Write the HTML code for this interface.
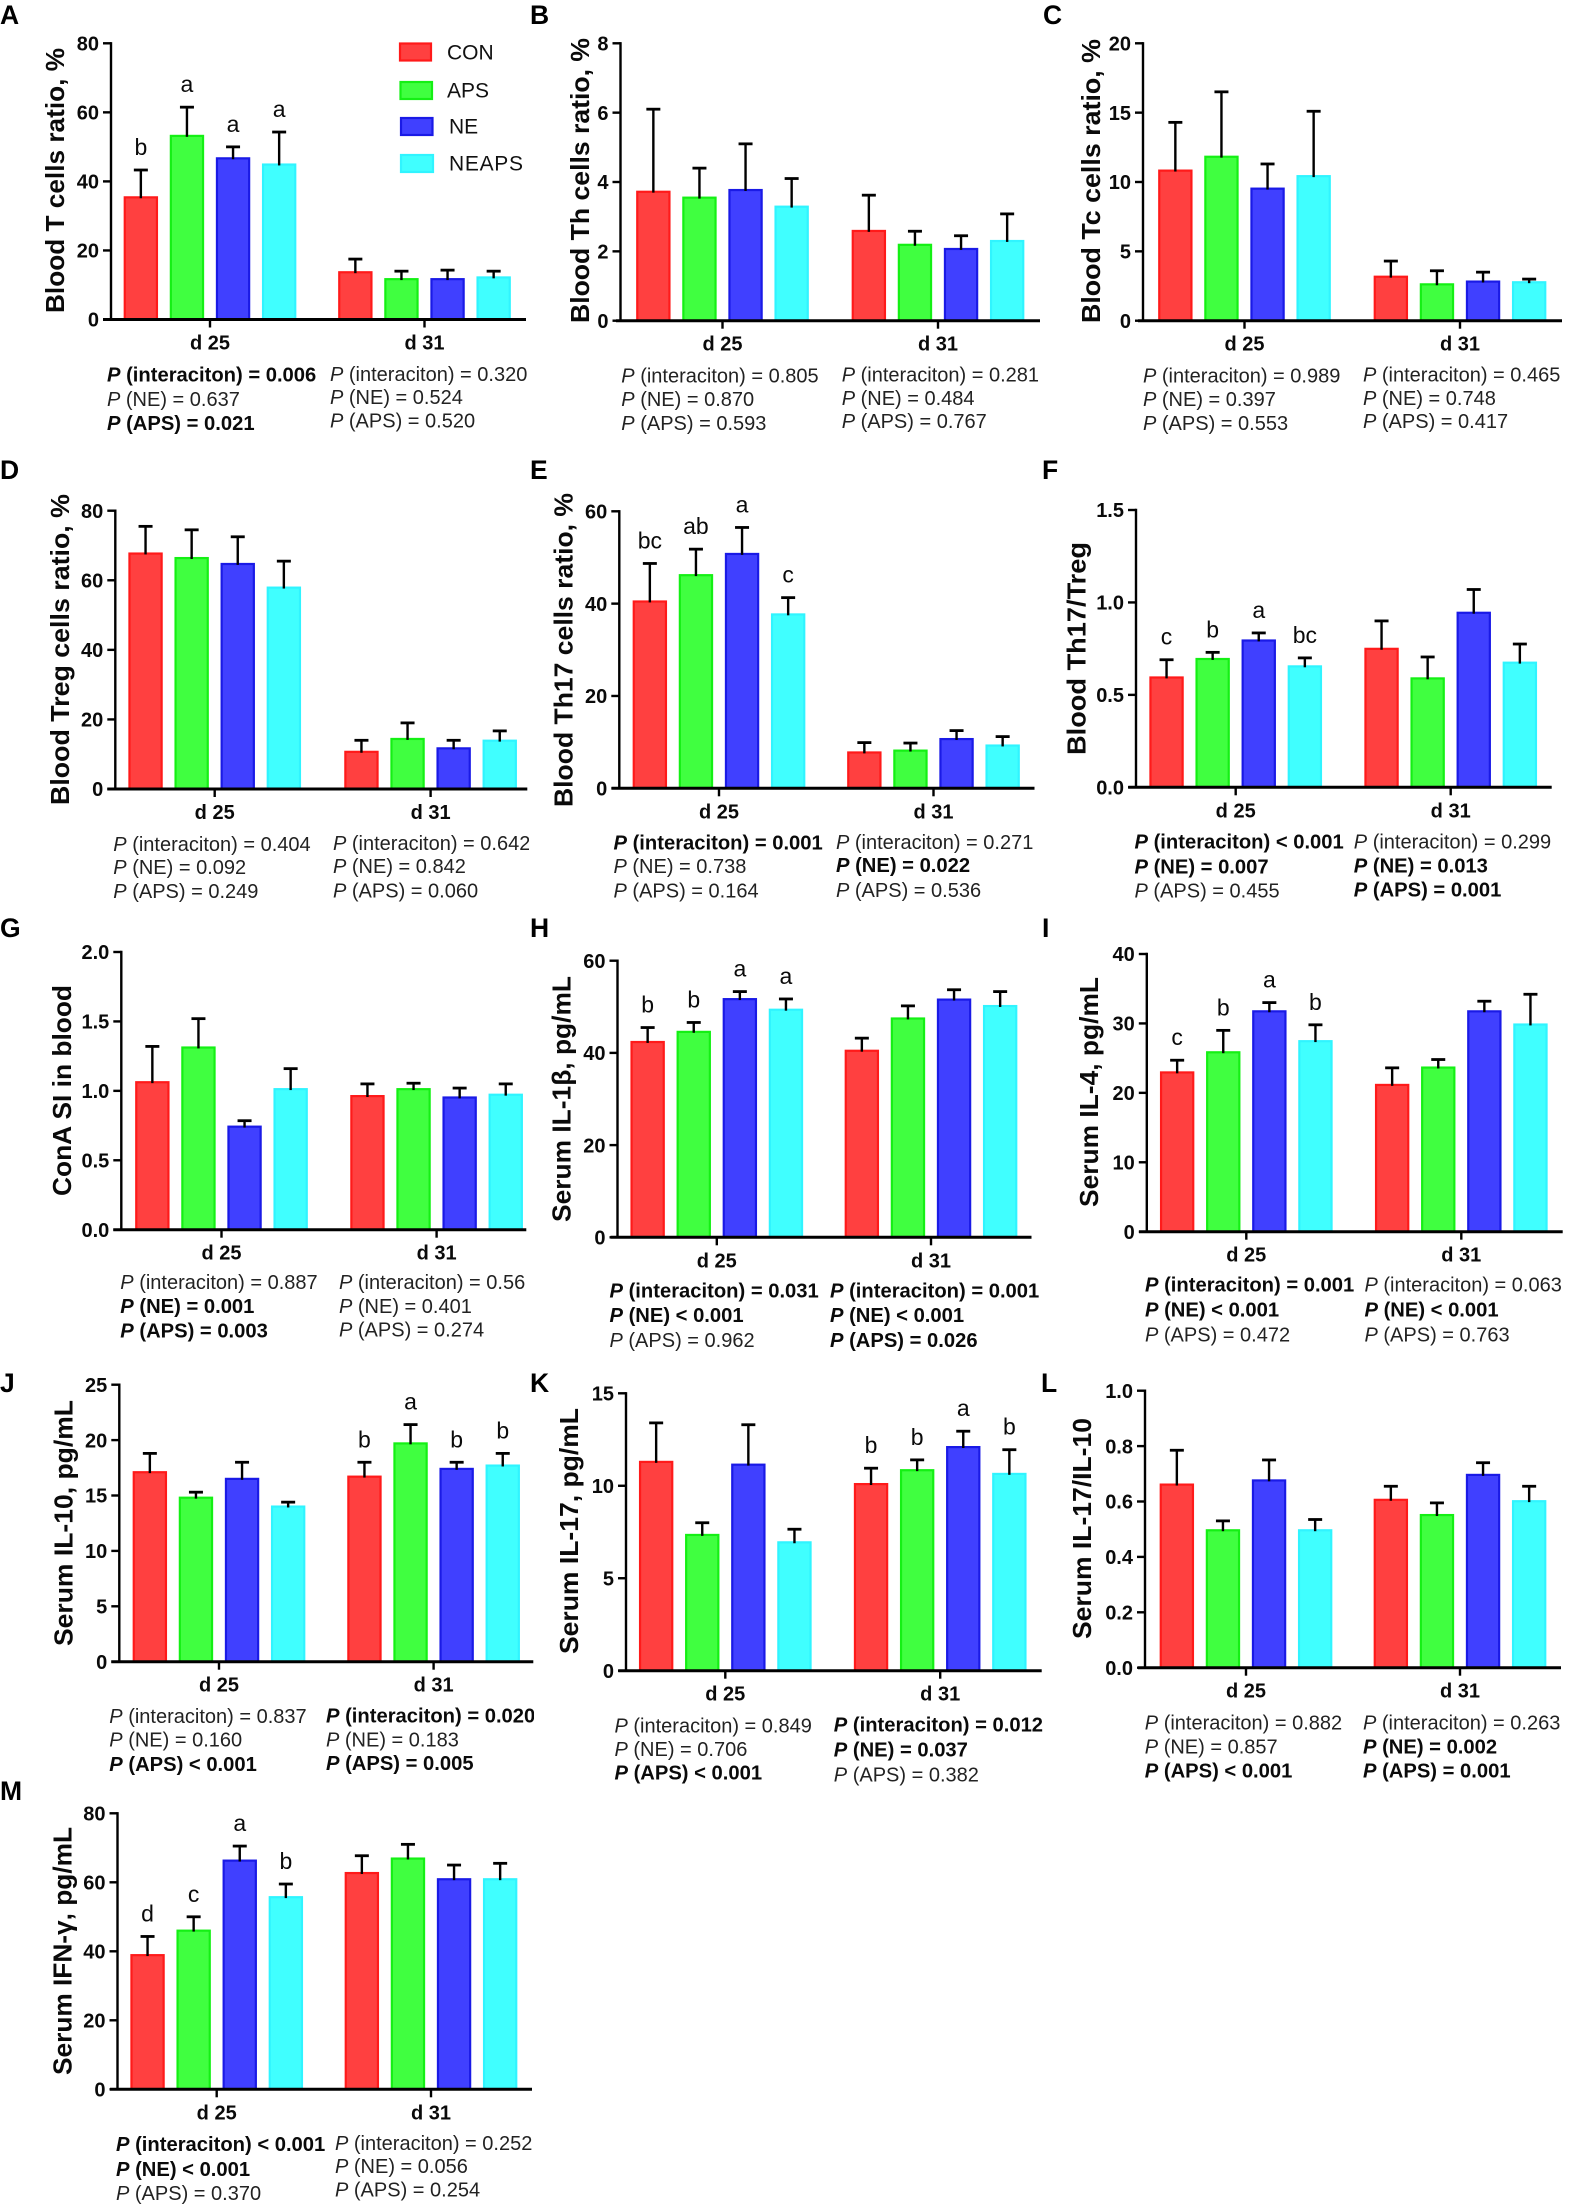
<!DOCTYPE html>
<html lang="en">
<head>
<meta charset="utf-8">
<title>Blood and serum immune parameters</title>
<style>
html,body{margin:0;padding:0;background:#fff;}
svg{display:block;font-family:"Liberation Sans",Arial,sans-serif;}
.pl{font-size:26.5px;font-weight:700;fill:#000;}
.yt{font-size:26px;font-weight:700;fill:#0a0a0a;}
.p{font-size:20px;fill:#222;}
.b{font-size:20.2px;font-weight:700;fill:#0a0a0a;}
.i{font-style:italic;}
.lg{font-size:21px;fill:#111;}
</style>
</head>
<body>
<svg id="figure" xmlns="http://www.w3.org/2000/svg" width="1571" height="2204" viewBox="0 0 1571 2204">
<defs>
<clipPath id="clip-d"><rect x="0" y="820" width="529" height="100"/></clipPath>
<clipPath id="clip-j"><rect x="0" y="1700" width="534" height="100"/></clipPath>
</defs>

<text class="pl" x="0" y="24">A</text>
<text class="pl" x="530" y="24">B</text>
<text class="pl" x="1043" y="24">C</text>
<text class="pl" x="0" y="479">D</text>
<text class="pl" x="530" y="479">E</text>
<text class="pl" x="1042" y="479">F</text>
<text class="pl" x="0" y="937">G</text>
<text class="pl" x="530" y="937">H</text>
<text class="pl" x="1042" y="937">I</text>
<text class="pl" x="0" y="1392">J</text>
<text class="pl" x="530" y="1392">K</text>
<text class="pl" x="1041" y="1392">L</text>
<text class="pl" x="0" y="1800">M</text>

<text class="yt" transform="translate(64,313) rotate(-90)" textLength="265" lengthAdjust="spacingAndGlyphs">Blood T cells ratio, %</text>
<text class="yt" transform="translate(589,323) rotate(-90)" textLength="285" lengthAdjust="spacingAndGlyphs">Blood Th cells ratio, %</text>
<text class="yt" transform="translate(1100,323) rotate(-90)" textLength="284" lengthAdjust="spacingAndGlyphs">Blood Tc cells ratio, %</text>
<text class="yt" transform="translate(69,805) rotate(-90)" textLength="311" lengthAdjust="spacingAndGlyphs">Blood Treg cells ratio, %</text>
<text class="yt" transform="translate(572.7,807) rotate(-90)" textLength="314" lengthAdjust="spacingAndGlyphs">Blood Th17 cells ratio, %</text>
<text class="yt" transform="translate(1085.5,755) rotate(-90)" textLength="213" lengthAdjust="spacingAndGlyphs">Blood Th17/Treg</text>
<text class="yt" transform="translate(71,1196) rotate(-90)" textLength="211" lengthAdjust="spacingAndGlyphs">ConA SI in blood</text>
<text class="yt" transform="translate(570.5,1222) rotate(-90)" textLength="246" lengthAdjust="spacingAndGlyphs">Serum IL-1β, pg/mL</text>
<text class="yt" transform="translate(1098,1207) rotate(-90)" textLength="230" lengthAdjust="spacingAndGlyphs">Serum IL-4, pg/mL</text>
<text class="yt" transform="translate(72.5,1646) rotate(-90)" textLength="246" lengthAdjust="spacingAndGlyphs">Serum IL-10, pg/mL</text>
<text class="yt" transform="translate(578,1654) rotate(-90)" textLength="246" lengthAdjust="spacingAndGlyphs">Serum IL-17, pg/mL</text>
<text class="yt" transform="translate(1091,1639) rotate(-90)" textLength="221" lengthAdjust="spacingAndGlyphs">Serum IL-17/IL-10</text>
<text class="yt" transform="translate(71.5,2075) rotate(-90)" textLength="248" lengthAdjust="spacingAndGlyphs">Serum IFN-γ, pg/mL</text>

<g id="legend">
<rect x="400" y="43.5" width="31" height="17" fill="#ff4040" stroke="#ff1a1a" stroke-width="2.2"/>
<rect x="400.5" y="82" width="31.5" height="17" fill="#40ff40" stroke="#14f014" stroke-width="2.2"/>
<rect x="401" y="118" width="31.5" height="17" fill="#4040ff" stroke="#1a1ae6" stroke-width="2.2"/>
<rect x="401" y="155" width="32" height="17" fill="#40ffff" stroke="#30f4ff" stroke-width="2.2"/>
<text class="lg" x="447" y="59.3">CON</text>
<text class="lg" x="447" y="97.7">APS</text>
<text class="lg" x="449" y="133.7">NE</text>
<text class="lg" x="449" y="170.7" textLength="74">NEAPS</text>
</g>

<g>
<text class="b" x="107" y="381.7"><tspan class="i">P</tspan> (interaciton) = 0.006</text>
<text class="p" x="107" y="406"><tspan class="i">P</tspan> (NE) = 0.637</text>
<text class="b" x="107" y="430"><tspan class="i">P</tspan> (APS) = 0.021</text>
<text class="p" x="330" y="381"><tspan class="i">P</tspan> (interaciton) = 0.320</text>
<text class="p" x="330" y="404"><tspan class="i">P</tspan> (NE) = 0.524</text>
<text class="p" x="330" y="427.7"><tspan class="i">P</tspan> (APS) = 0.520</text>
</g>
<g>
<text class="p" x="621.3" y="382.7"><tspan class="i">P</tspan> (interaciton) = 0.805</text>
<text class="p" x="621.3" y="406"><tspan class="i">P</tspan> (NE) = 0.870</text>
<text class="p" x="621.3" y="430"><tspan class="i">P</tspan> (APS) = 0.593</text>
<text class="p" x="841.7" y="381.7"><tspan class="i">P</tspan> (interaciton) = 0.281</text>
<text class="p" x="841.7" y="405"><tspan class="i">P</tspan> (NE) = 0.484</text>
<text class="p" x="841.7" y="428"><tspan class="i">P</tspan> (APS) = 0.767</text>
</g>
<g>
<text class="p" x="1143" y="382.7"><tspan class="i">P</tspan> (interaciton) = 0.989</text>
<text class="p" x="1143" y="406"><tspan class="i">P</tspan> (NE) = 0.397</text>
<text class="p" x="1143" y="430"><tspan class="i">P</tspan> (APS) = 0.553</text>
<text class="p" x="1363" y="381.7"><tspan class="i">P</tspan> (interaciton) = 0.465</text>
<text class="p" x="1363" y="405"><tspan class="i">P</tspan> (NE) = 0.748</text>
<text class="p" x="1363" y="428"><tspan class="i">P</tspan> (APS) = 0.417</text>
</g>
<g clip-path="url(#clip-d)">
<text class="p" x="113.3" y="851"><tspan class="i">P</tspan> (interaciton) = 0.404</text>
<text class="p" x="113.3" y="874"><tspan class="i">P</tspan> (NE) = 0.092</text>
<text class="p" x="113.3" y="898"><tspan class="i">P</tspan> (APS) = 0.249</text>
<text class="p" x="333" y="850"><tspan class="i">P</tspan> (interaciton) = 0.642</text>
<text class="p" x="333" y="873"><tspan class="i">P</tspan> (NE) = 0.842</text>
<text class="p" x="333" y="897.7"><tspan class="i">P</tspan> (APS) = 0.060</text>
</g>
<g>
<text class="b" x="613.5" y="849.3"><tspan class="i">P</tspan> (interaciton) = 0.001</text>
<text class="p" x="613.5" y="873"><tspan class="i">P</tspan> (NE) = 0.738</text>
<text class="p" x="613.5" y="897.7"><tspan class="i">P</tspan> (APS) = 0.164</text>
<text class="p" x="836" y="849"><tspan class="i">P</tspan> (interaciton) = 0.271</text>
<text class="b" x="836" y="872"><tspan class="i">P</tspan> (NE) = 0.022</text>
<text class="p" x="836" y="897"><tspan class="i">P</tspan> (APS) = 0.536</text>
</g>
<g>
<text class="b" x="1134.5" y="848.3"><tspan class="i">P</tspan> (interaciton) &lt; 0.001</text>
<text class="b" x="1134.5" y="873.3"><tspan class="i">P</tspan> (NE) = 0.007</text>
<text class="p" x="1134.5" y="897.3"><tspan class="i">P</tspan> (APS) = 0.455</text>
<text class="p" x="1353.8" y="848.3"><tspan class="i">P</tspan> (interaciton) = 0.299</text>
<text class="b" x="1353.8" y="872.3"><tspan class="i">P</tspan> (NE) = 0.013</text>
<text class="b" x="1353.8" y="896.7"><tspan class="i">P</tspan> (APS) = 0.001</text>
</g>
<g>
<text class="p" x="120.3" y="1289"><tspan class="i">P</tspan> (interaciton) = 0.887</text>
<text class="b" x="120.3" y="1313"><tspan class="i">P</tspan> (NE) = 0.001</text>
<text class="b" x="120.3" y="1337.7"><tspan class="i">P</tspan> (APS) = 0.003</text>
<text class="p" x="339" y="1289"><tspan class="i">P</tspan> (interaciton) = 0.56</text>
<text class="p" x="339" y="1313"><tspan class="i">P</tspan> (NE) = 0.401</text>
<text class="p" x="339" y="1336.7"><tspan class="i">P</tspan> (APS) = 0.274</text>
</g>
<g>
<text class="b" x="609.5" y="1297.7"><tspan class="i">P</tspan> (interaciton) = 0.031</text>
<text class="b" x="609.5" y="1322"><tspan class="i">P</tspan> (NE) &lt; 0.001</text>
<text class="p" x="609.5" y="1347"><tspan class="i">P</tspan> (APS) = 0.962</text>
<text class="b" x="830" y="1297.7"><tspan class="i">P</tspan> (interaciton) = 0.001</text>
<text class="b" x="830" y="1322"><tspan class="i">P</tspan> (NE) &lt; 0.001</text>
<text class="b" x="830" y="1347"><tspan class="i">P</tspan> (APS) = 0.026</text>
</g>
<g>
<text class="b" x="1145" y="1291.7"><tspan class="i">P</tspan> (interaciton) = 0.001</text>
<text class="b" x="1145" y="1316.7"><tspan class="i">P</tspan> (NE) &lt; 0.001</text>
<text class="p" x="1145" y="1341.7"><tspan class="i">P</tspan> (APS) = 0.472</text>
<text class="p" x="1364.5" y="1291.7"><tspan class="i">P</tspan> (interaciton) = 0.063</text>
<text class="b" x="1364.5" y="1316.7"><tspan class="i">P</tspan> (NE) &lt; 0.001</text>
<text class="p" x="1364.5" y="1341.7"><tspan class="i">P</tspan> (APS) = 0.763</text>
</g>
<g clip-path="url(#clip-j)">
<text class="p" x="109.3" y="1723"><tspan class="i">P</tspan> (interaciton) = 0.837</text>
<text class="p" x="109.3" y="1746.7"><tspan class="i">P</tspan> (NE) = 0.160</text>
<text class="b" x="109.3" y="1771"><tspan class="i">P</tspan> (APS) &lt; 0.001</text>
<text class="b" x="326" y="1722.7"><tspan class="i">P</tspan> (interaciton) = 0.020</text>
<text class="p" x="326" y="1746.7"><tspan class="i">P</tspan> (NE) = 0.183</text>
<text class="b" x="326" y="1770"><tspan class="i">P</tspan> (APS) = 0.005</text>
</g>
<g>
<text class="p" x="614.5" y="1732.3"><tspan class="i">P</tspan> (interaciton) = 0.849</text>
<text class="p" x="614.5" y="1756"><tspan class="i">P</tspan> (NE) = 0.706</text>
<text class="b" x="614.5" y="1779.3"><tspan class="i">P</tspan> (APS) &lt; 0.001</text>
<text class="b" x="833.8" y="1731.7"><tspan class="i">P</tspan> (interaciton) = 0.012</text>
<text class="b" x="833.8" y="1756.7"><tspan class="i">P</tspan> (NE) = 0.037</text>
<text class="p" x="833.8" y="1781.7"><tspan class="i">P</tspan> (APS) = 0.382</text>
</g>
<g>
<text class="p" x="1144.8" y="1729.3"><tspan class="i">P</tspan> (interaciton) = 0.882</text>
<text class="p" x="1144.8" y="1753.3"><tspan class="i">P</tspan> (NE) = 0.857</text>
<text class="b" x="1144.8" y="1777.3"><tspan class="i">P</tspan> (APS) &lt; 0.001</text>
<text class="p" x="1363" y="1729.3"><tspan class="i">P</tspan> (interaciton) = 0.263</text>
<text class="b" x="1363" y="1753.3"><tspan class="i">P</tspan> (NE) = 0.002</text>
<text class="b" x="1363" y="1777.3"><tspan class="i">P</tspan> (APS) = 0.001</text>
</g>
<g>
<text class="b" x="116" y="2151"><tspan class="i">P</tspan> (interaciton) &lt; 0.001</text>
<text class="b" x="116" y="2176"><tspan class="i">P</tspan> (NE) &lt; 0.001</text>
<text class="p" x="116" y="2200"><tspan class="i">P</tspan> (APS) = 0.370</text>
<text class="p" x="335" y="2150"><tspan class="i">P</tspan> (interaciton) = 0.252</text>
<text class="p" x="335" y="2173"><tspan class="i">P</tspan> (NE) = 0.056</text>
<text class="p" x="335" y="2196.7"><tspan class="i">P</tspan> (APS) = 0.254</text>
</g>

<g id="charts"></g>
</svg>

<script>
const dayLabels = ['d 25', 'd 31'];
const treatmentFills = ['#ff4040', '#40ff40', '#4040ff', '#40ffff'];
const treatmentEdges = ['#ff1a1a', '#14f014', '#1a1ae6', '#30f4ff'];

const aTicks = ['0', '20', '40', '60', '80'];
const aMeans = [35.7, 53.5, 47, 45.2, 14, 12, 12, 12.5];
const aUppers = [43.3, 61.5, 50, 54.3, 17.5, 14, 14.3, 14];
const aLetters = ['b', 'a', 'a', 'a', '', '', '', ''];

const bTicks = ['0', '2', '4', '6', '8'];
const bMeans = [3.75, 3.58, 3.8, 3.32, 2.62, 2.22, 2.1, 2.33];
const bUppers = [6.1, 4.4, 5.1, 4.1, 3.62, 2.58, 2.45, 3.08];
const bLetters = ['', '', '', '', '', '', '', ''];

const cTicks = ['0', '5', '10', '15', '20'];
const cMeans = [10.9, 11.9, 9.6, 10.5, 3.25, 2.7, 2.9, 2.85];
const cUppers = [14.3, 16.5, 11.3, 15.1, 4.3, 3.6, 3.5, 3.0];
const cLetters = ['', '', '', '', '', '', '', ''];

const dTicks = ['0', '20', '40', '60', '80'];
const dMeans = [68, 66.7, 65, 58.2, 11, 14.7, 12, 14.2];
const dUppers = [75.5, 74.5, 72.5, 65.5, 14, 19, 14, 16.7];
const dLetters = ['', '', '', '', '', '', '', ''];

const eTicks = ['0', '20', '40', '60'];
const eMeans = [40.7, 46.4, 51, 37.9, 8, 8.4, 10.9, 9.5];
const eUppers = [48.7, 51.8, 56.5, 41.3, 9.9, 9.8, 12.5, 11.2];
const eLetters = ['bc', 'ab', 'a', 'c', '', '', '', ''];

const fTicks = ['0.0', '0.5', '1.0', '1.5'];
const fMeans = [0.6, 0.7, 0.8, 0.66, 0.755, 0.595, 0.95, 0.68];
const fUppers = [0.69, 0.73, 0.835, 0.7, 0.9, 0.705, 1.07, 0.775];
const fLetters = ['c', 'b', 'a', 'bc', '', '', '', ''];

const gTicks = ['0.0', '0.5', '1.0', '1.5', '2.0'];
const gMeans = [1.07, 1.32, 0.75, 1.02, 0.97, 1.02, 0.96, 0.98];
const gUppers = [1.32, 1.52, 0.785, 1.16, 1.05, 1.055, 1.02, 1.05];
const gLetters = ['', '', '', '', '', '', '', ''];

const hTicks = ['0', '20', '40', '60'];
const hMeans = [42.6, 44.8, 51.9, 49.6, 40.7, 47.7, 51.8, 50.4];
const hUppers = [45.5, 46.6, 53.3, 51.7, 43.2, 50.2, 53.7, 53.3];
const hLetters = ['b', 'b', 'a', 'a', '', '', '', ''];

const iTicks = ['0', '10', '20', '30', '40'];
const iMeans = [23.1, 26, 31.9, 27.6, 21.3, 23.8, 31.9, 30];
const iUppers = [24.7, 29, 33, 29.8, 23.6, 24.8, 33.2, 34.2];
const iLetters = ['c', 'b', 'a', 'b', '', '', '', ''];

const jTicks = ['0', '5', '10', '15', '20', '25'];
const jMeans = [17.2, 14.9, 16.6, 14.1, 16.8, 19.8, 17.5, 17.8];
const jUppers = [18.8, 15.3, 18, 14.4, 18, 21.4, 18, 18.8];
const jLetters = ['', '', '', '', 'b', 'a', 'b', 'b'];

const kTicks = ['0', '5', '10', '15'];
const kMeans = [11.35, 7.4, 11.2, 7, 10.15, 10.9, 12.15, 10.7];
const kUppers = [13.4, 8, 13.3, 7.65, 10.95, 11.4, 12.95, 11.95];
const kLetters = ['', '', '', '', 'b', 'b', 'a', 'b'];

const lTicks = ['0.0', '0.2', '0.4', '0.6', '0.8', '1.0'];
const lMeans = [0.665, 0.5, 0.68, 0.5, 0.61, 0.555, 0.7, 0.605];
const lUppers = [0.785, 0.53, 0.75, 0.535, 0.655, 0.595, 0.74, 0.655];
const lLetters = ['', '', '', '', '', '', '', ''];

const mTicks = ['0', '20', '40', '60', '80'];
const mMeans = [39.2, 46.3, 66.6, 56, 63, 67.2, 61.2, 61.2];
const mUppers = [44.3, 50, 70.5, 59.5, 67.7, 71, 65, 65.5];
const mLetters = ['d', 'c', 'a', 'b', '', '', '', ''];

const SVGNS = 'http://www.w3.org/2000/svg';
const chartsRoot = document.getElementById('charts');

function line(parent, x1, y1, x2, y2, w) {
  const el = document.createElementNS(SVGNS, 'line');
  el.setAttribute('x1', x1);
  el.setAttribute('y1', y1);
  el.setAttribute('x2', x2);
  el.setAttribute('y2', y2);
  el.setAttribute('stroke', '#000');
  el.setAttribute('stroke-width', w);
  parent.appendChild(el);
  return el;
}

function label(parent, x, y, str, anchor, size, weight) {
  const el = document.createElementNS(SVGNS, 'text');
  el.setAttribute('x', x);
  el.setAttribute('y', y);
  el.setAttribute('text-anchor', anchor);
  el.setAttribute('font-size', size);
  el.setAttribute('font-weight', weight);
  el.setAttribute('fill', '#0a0a0a');
  el.textContent = str;
  parent.appendChild(el);
  return el;
}

function drawPanel(frame, ticks, means, uppers, letters) {
  const g = document.createElementNS(SVGNS, 'g');
  
  
  chartsRoot.appendChild(g);

  const maxTick = parseFloat(ticks[ticks.length - 1]);
  const yScale = v => frame.y0 - (v / maxTick) * (frame.y0 - frame.top);
  const xScale = i => {
    const group = i < 4 ? frame.g1 : frame.g2;
    return group + ((i % 4) - 1.5) * 46.1;
  };
  const barW = 34.4;

  means.forEach((m, i) => {
    const rect = document.createElementNS(SVGNS, 'rect');
    const yv = yScale(m);
    rect.setAttribute('x', xScale(i) - barW / 2 + 1.1);
    rect.setAttribute('y', yv + 1.1);
    rect.setAttribute('width', barW - 2.2);
    rect.setAttribute('height', Math.max(0, frame.y0 - yv - 1.1));
    rect.setAttribute('fill', treatmentFills[i % 4]);
    rect.setAttribute('stroke', treatmentEdges[i % 4]);
    rect.setAttribute('stroke-width', 2.2);
    
    
    g.appendChild(rect);

    const yu = yScale(uppers[i]);
    const stem = line(g, xScale(i), yv + 2, xScale(i), yu, 2.4);
    
    
    const cap = line(g, xScale(i) - 7, yu, xScale(i) + 7, yu, 2.8);
    
    

    if (letters[i]) {
      const t = label(g, xScale(i), yu - 15, letters[i], 'middle', 23, 400);
      
      
    }
  });

  const yAxis = line(g, frame.ax, frame.top - 1.2, frame.ax, frame.y0, 2.4);
  
  
  const xAxis = line(g, frame.xs, frame.y0, frame.xe, frame.y0, 3);
  
  

  ticks.forEach(t => {
    const y = yScale(parseFloat(t));
    const tk = line(g, frame.ax - 8, y, frame.ax, y, 2.4);
    
    
    const tl = label(g, frame.ax - 12, y + 7.2, t, 'end', 20, 700);
    
    
  });

  [frame.g1, frame.g2].forEach((gx, k) => {
    const tk = line(g, gx, frame.y0, gx, frame.y0 + 8, 2.4);
    
    
    const tl = label(g, gx, frame.y0 + 30, dayLabels[k], 'middle', 20, 700);
    
    
  });
}

drawPanel({ax: 111, top: 43.3, y0: 319.5, xs: 103, xe: 526, g1: 210, g2: 424.5}, aTicks, aMeans, aUppers, aLetters);
drawPanel({ax: 620.5, top: 43.3, y0: 320.7, xs: 616, xe: 1040, g1: 722.5, g2: 938}, bTicks, bMeans, bUppers, bLetters);
drawPanel({ax: 1143, top: 43.3, y0: 320.7, xs: 1138, xe: 1562, g1: 1244.5, g2: 1460}, cTicks, cMeans, cUppers, cLetters);
drawPanel({ax: 115.3, top: 510.7, y0: 789, xs: 107.3, xe: 527.3, g1: 214.7, g2: 430.6}, dTicks, dMeans, dUppers, dLetters);
drawPanel({ax: 619.3, top: 511.3, y0: 788.3, xs: 611.5, xe: 1034.5, g1: 719, g2: 933.5}, eTicks, eMeans, eUppers, eLetters);
drawPanel({ax: 1136, top: 510, y0: 787.3, xs: 1128.3, xe: 1551.7, g1: 1235.7, g2: 1450.7}, fTicks, fMeans, fUppers, fLetters);
drawPanel({ax: 121.3, top: 952, y0: 1229.7, xs: 113.3, xe: 526.3, g1: 221.5, g2: 436.6}, gTicks, gMeans, gUppers, gLetters);
drawPanel({ax: 617.5, top: 960.7, y0: 1237.3, xs: 610.5, xe: 1031.5, g1: 716.8, g2: 931}, hTicks, hMeans, hUppers, hLetters);
drawPanel({ax: 1146.8, top: 954, y0: 1231.7, xs: 1139, xe: 1562.7, g1: 1246.3, g2: 1461.3}, iTicks, iMeans, iUppers, iLetters);
drawPanel({ax: 119.3, top: 1384.7, y0: 1661.7, xs: 111.3, xe: 533.3, g1: 219, g2: 433.6}, jTicks, jMeans, jUppers, jLetters);
drawPanel({ax: 626, top: 1393.3, y0: 1670.7, xs: 618.3, xe: 1041.7, g1: 725.3, g2: 940.2}, kTicks, kMeans, kUppers, kLetters);
drawPanel({ax: 1145, top: 1390.7, y0: 1667.7, xs: 1138, xe: 1561, g1: 1246, g2: 1460}, lTicks, lMeans, lUppers, lLetters);
drawPanel({ax: 117.5, top: 1813.3, y0: 2089.3, xs: 110, xe: 532, g1: 216.7, g2: 431}, mTicks, mMeans, mUppers, mLetters);
</script>
</body>
</html>
